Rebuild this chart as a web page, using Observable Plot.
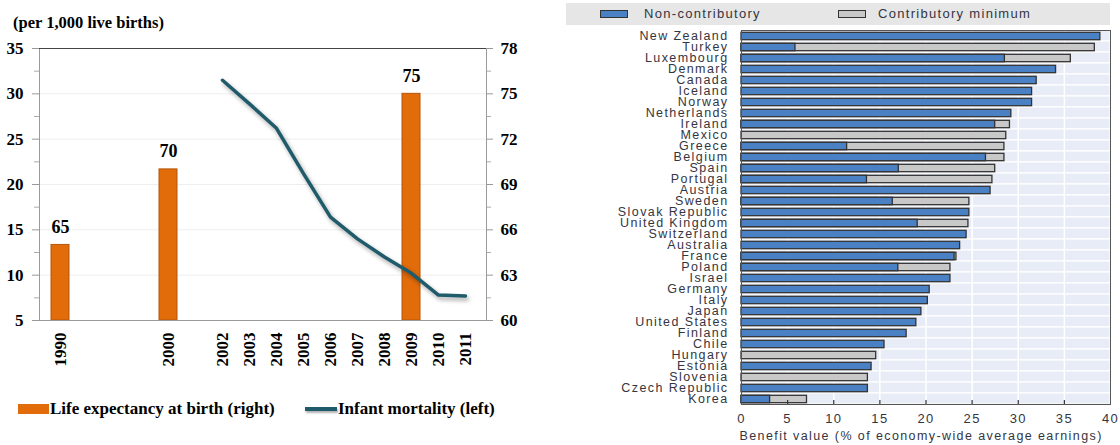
<!DOCTYPE html>
<html><head><meta charset="utf-8">
<script src="https://cdn.jsdelivr.net/npm/d3@7"></script>
<script src="https://cdn.jsdelivr.net/npm/@observablehq/plot@0.6"></script>
<style>
body{margin:0;background:#fff;}
#wrap{position:relative;width:1120px;height:445px;overflow:hidden;background:#fff;}
.abs{position:absolute;white-space:nowrap;}
.serif{font-family:"Liberation Serif","Times New Roman",serif;font-weight:bold;color:#000;}
.sans{font-family:"Liberation Sans",Arial,sans-serif;color:#35353f;letter-spacing:1.3px;font-size:13px;}
.shadowline{filter:drop-shadow(2px 3px 2px rgba(0,0,0,0.35));}
</style></head><body>
<div id="wrap"></div>
<script>
// ---------- Left chart data ----------
const slotDomain = ["1990","gap1","gap2","gap3","2000","gap4","2002","2003","2004","2005","2006","2007","2008","2009","2010","2011"];
const yearTicks = ["1990","2000","2002","2003","2004","2005","2006","2007","2008","2009","2010","2011"];
const lifeYears = ["1990","2000","2009"];
const lifeExpectancy = [65, 70, 75];
const mortYears = ["2002","2003","2004","2005","2006","2007","2008","2009","2010","2011"];
const infantMortality = [31.5, 28.9, 26.2, 21.2, 16.4, 14.0, 12.0, 10.2, 7.8, 7.7];
const leftTicks = [5, 10, 15, 20, 25, 30, 35];
const leftMinor = [7.5, 12.5, 17.5, 22.5, 27.5, 32.5];
const rightTicks = [60, 63, 66, 69, 72, 75, 78];
const rightMinor = [61.5, 64.5, 67.5, 70.5, 73.5, 76.5];

// ---------- Right chart data ----------
const countries = ["New Zealand","Turkey","Luxembourg","Denmark","Canada","Iceland","Norway","Netherlands","Ireland","Mexico","Greece","Belgium","Spain","Portugal","Austria","Sweden","Slovak Republic","United Kingdom","Switzerland","Australia","France","Poland","Israel","Germany","Italy","Japan","United States","Finland","Chile","Hungary","Estonia","Slovenia","Czech Republic","Korea"];
const nonContributory = [38.9, 5.85, 28.55, 34.1, 32.0, 31.5, 31.5, 29.25, 27.5, 0, 11.45, 26.5, 17.05, 13.6, 27.0, 16.4, 24.7, 19.1, 24.4, 23.7, 23.1, 17.0, 22.65, 20.4, 20.2, 19.5, 18.95, 17.9, 15.5, 0, 14.1, 0, 13.7, 3.1];
const contributoryMinimum = [0, 38.3, 35.7, 0, 0, 0, 0, 0, 29.1, 28.7, 28.5, 28.5, 27.5, 27.2, 0, 24.7, 0, 24.6, 0, 0, 23.3, 22.65, 0, 0, 0, 0, 0, 0, 0, 14.6, 0, 13.7, 0, 7.1];
const xTicksRight = [0, 5, 10, 15, 20, 25, 30, 35, 40];

const wrap = document.getElementById("wrap");
function abs(el, l, t){ el.classList.add("abs"); el.style.left = l + "px"; el.style.top = t + "px"; wrap.appendChild(el); return el; }

// ---------- Left chart ----------
const toLeft = r => 5 + (r - 60) * 30 / 18;
const fromLeft = v => Math.round(60 + (v - 5) * 18 / 30);
const lifeData = lifeYears.map((y, i) => ({year: y, value: lifeExpectancy[i]}));
const mortData = mortYears.map((y, i) => ({year: y, value: infantMortality[i]}));

const leftPlot = Plot.plot({
  width: 560, height: 400,
  marginLeft: 39, marginRight: 74, marginTop: 48, marginBottom: 80,
  style: {fontFamily: "'Liberation Serif','Times New Roman',serif", fontWeight: "bold", fontSize: "17px", color: "#000", background: "transparent", overflow: "visible"},
  x: {type: "band", domain: slotDomain, paddingInner: 0.32, paddingOuter: 0.16},
  y: {domain: [5, 35]},
  marks: [
    Plot.ruleY([10, 15, 20, 25, 30], {stroke: "#eeeeee", strokeWidth: 1}),
    Plot.barY(lifeData, {x: "year", y1: 5, y2: d => toLeft(d.value), fill: "#E26B0A", stroke: "#B5560A", strokeWidth: 1}),
    Plot.text(lifeData, {x: "year", y: d => toLeft(d.value), text: d => String(d.value), dy: -18, fontSize: 18, fill: "#000"}),
    Plot.line(mortData, {x: "year", y: "value", stroke: "#1F5B6A", strokeWidth: 3.5, className: "shadowline"}),
    Plot.frame({stroke: "#9a9a9a", strokeWidth: 1}),
    Plot.ruleY([35], {stroke: "#444", strokeWidth: 1}),
    Plot.axisY(leftTicks, {anchor: "left", tickSize: 7, tickPadding: 9, stroke: "#999", label: null, tickFormat: d => String(d)}),
    Plot.axisY(leftMinor, {anchor: "left", tickSize: 5, stroke: "#aaa", label: null, tickFormat: () => ""}),
    Plot.axisY(rightTicks.map(toLeft), {anchor: "right", tickSize: 6, tickPadding: 8, stroke: "#999", label: null, tickFormat: v => String(fromLeft(v))}),
    Plot.axisY(rightMinor.map(toLeft), {anchor: "right", tickSize: 4, stroke: "#aaa", label: null, tickFormat: () => ""}),
    Plot.axisX(yearTicks, {anchor: "bottom", tickSize: 0, tickPadding: 12, tickRotate: -90, label: null})
  ]
});
abs(leftPlot, 0, 0);

const title = document.createElement("div");
title.className = "serif"; title.style.fontSize = "16.5px"; title.style.lineHeight = "20px";
title.textContent = "(per 1,000 live births)";
abs(title, 13, 13);

const lgRect = document.createElement("div");
lgRect.style.cssText = "width:31px;height:10px;background:#E26B0A;";
abs(lgRect, 18, 404);
const lgT1 = document.createElement("div");
lgT1.className = "serif"; lgT1.style.fontSize = "17px"; lgT1.style.lineHeight = "20px";
lgT1.textContent = "Life expectancy at birth (right)";
abs(lgT1, 50, 399);
const lgLine = document.createElement("div");
lgLine.style.cssText = "width:32px;height:3.5px;background:#1F5B6A;box-shadow:1px 2px 2px rgba(0,0,0,0.3);";
abs(lgLine, 305, 407);
const lgT2 = document.createElement("div");
lgT2.className = "serif"; lgT2.style.fontSize = "17px"; lgT2.style.lineHeight = "20px";
lgT2.textContent = "Infant mortality (left)";
abs(lgT2, 338, 399);

// ---------- Right chart ----------
const pensionData = countries.map((c, i) => ({country: c, nc: nonContributory[i], cm: contributoryMinimum[i]}));
const rightPlot = Plot.plot({
  width: 560, height: 445,
  marginLeft: 181, marginRight: 10, marginTop: 30, marginBottom: 41,
  style: {fontFamily: "'Liberation Sans',Arial,sans-serif", fontSize: "12px", color: "#35353f", letterSpacing: "1.4px", background: "transparent", overflow: "visible"},
  x: {domain: [0, 40]},
  y: {type: "band", domain: countries, padding: 0},
  marks: [
    Plot.barX(countries, {y: d => d, x1: 0, x2: 40, fill: "#e8ecf6", stroke: "#ffffff", strokeWidth: 1.2}),
    Plot.ruleX([5, 10, 15, 20, 25, 30, 35], {stroke: "#ffffff", strokeWidth: 1.5}),
    Plot.barX(pensionData.filter(d => d.cm > 0), {y: "country", x1: 0, x2: "cm", fill: "#c8c8c8", stroke: "#333", strokeWidth: 1.3, insetTop: 2.3, insetBottom: 1.3}),
    Plot.barX(pensionData.filter(d => d.nc > 0), {y: "country", x1: 0, x2: "nc", fill: "#4A80C4", stroke: "#333", strokeWidth: 1.3, insetTop: 2.3, insetBottom: 1.3}),
    Plot.frame({stroke: "#555", strokeWidth: 1}),
    Plot.ruleX([5, 10, 15, 20, 25, 30, 35], {stroke: "#333", strokeWidth: 1.2, insetTop: 370}),
    Plot.axisY({anchor: "left", tickSize: 0, tickPadding: 13, label: null, fontSize: 12.5}),
    Plot.axisX(xTicksRight, {anchor: "bottom", tickSize: 0, tickPadding: 9, label: null, fontSize: 13}),
    Plot.text(["Benefit value (% of economy-wide average earnings)"], {frameAnchor: "bottom-left", dy: 35, dx: -2, textAnchor: "start", text: d => d, fontSize: 12.5})
  ]
});
abs(rightPlot, 560, 0);

const lgBg = document.createElement("div");
lgBg.style.cssText = "width:544px;height:22px;background:#e6e6e6;";
abs(lgBg, 566, 3);
const b1 = document.createElement("div");
b1.style.cssText = "width:26px;height:6px;background:#4A80C4;border:1.5px solid #333;";
abs(b1, 600, 10);
const t1 = document.createElement("div");
t1.className = "sans"; t1.style.lineHeight = "16px"; t1.textContent = "Non-contributory";
abs(t1, 644, 6);
const b2 = document.createElement("div");
b2.style.cssText = "width:26px;height:6px;background:#c8c8c8;border:1.5px solid #333;";
abs(b2, 838, 10);
const t2 = document.createElement("div");
t2.className = "sans"; t2.style.lineHeight = "16px"; t2.textContent = "Contributory minimum";
abs(t2, 878, 6);
</script>
</body></html>
